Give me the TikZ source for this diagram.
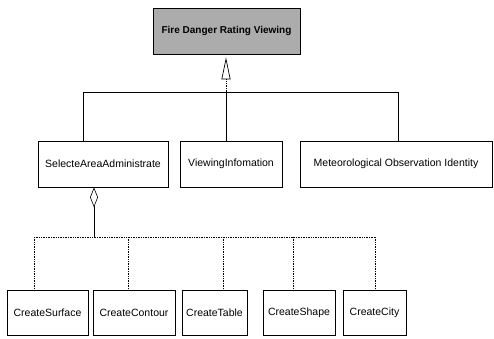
\documentclass[tikz,border=0pt]{standalone}
\usepackage{fontspec}
\setmainfont{Liberation Sans}
\usetikzlibrary{arrows.meta}

\tikzset{
  cls/.style={draw, line width=0.6pt, minimum height=46pt, inner sep=2pt,
              font=\fontsize{10.5}{12}\selectfont},
  bus/.style={line width=0.6pt},
  subbus/.style={line width=0.7pt, densely dotted}
}

\begin{document}
\begin{tikzpicture}[x=1pt, y=-1pt]
        \useasboundingbox (0, 0) rectangle (494, 338);

        % top class
        \node[cls, fill=gray!65, minimum width=147pt,
              font=\bfseries\fontsize{10}{12}\selectfont] (fire) at (226.5, 31) {Fire Danger Rating Viewing};

        % second level
        \node[cls, minimum width=130pt] (sel) at (103, 164) {SelecteAreaAdministrate};
        \node[cls, minimum width=102pt] (view) at (231, 164) {ViewingInfomation};
        \node[cls, minimum width=192pt] (met) at (396, 164) {Meteorological Observation Identity};

        % third level
        \node[cls, minimum width=81pt, minimum height=45pt] (surf) at (47.5, 312.5) {CreateSurface};
        \node[cls, minimum width=82pt, minimum height=45pt] (cont) at (134, 312.5) {CreateContour};
        \node[cls, minimum width=65pt, minimum height=45pt] (tab) at (214.5, 312.5) {CreateTable};
        \node[cls, minimum width=72pt, minimum height=45pt] (shp) at (299, 312.5) {CreateShape};
        \node[cls, minimum width=63pt, minimum height=45pt] (city) at (374.5, 312.5) {CreateCity};

        % generalisation to the top class
        \coordinate (bl) at (83, 92);
        \coordinate (bm) at (226, 92);
        \coordinate (br) at (398, 92);
        \draw[bus] (bl) -- (br);
        \draw[bus] (bl) -- (bl |- sel.north);
        \draw[bus] (bm) -- (bm |- view.north);
        \draw[bus] (br) -- (br |- met.north);
        \draw[densely dotted, line width=0.7pt, -{Triangle[open, length=22pt, width=9pt]}, shorten >=3pt]
                (bm) -- (bm |- fire.south);

        % aggregation below SelecteAreaAdministrate
        \coordinate (hub) at (94, 237);
        \draw[bus, {Diamond[open, length=20pt, width=8pt]}-] (hub |- sel.south) -- (hub);
        \coordinate (dl) at (34, 237);
        \coordinate (dr) at (375, 237);
        \draw[subbus] (dl) -- (dr);
        \foreach \n/\x in {surf/34, cont/128, tab/223, shp/293, city/375} {
                \coordinate (d\n) at (\x, 237);
                \draw[subbus] (d\n) -- (d\n |- \n.north);
        }
\end{tikzpicture}
\end{document}
